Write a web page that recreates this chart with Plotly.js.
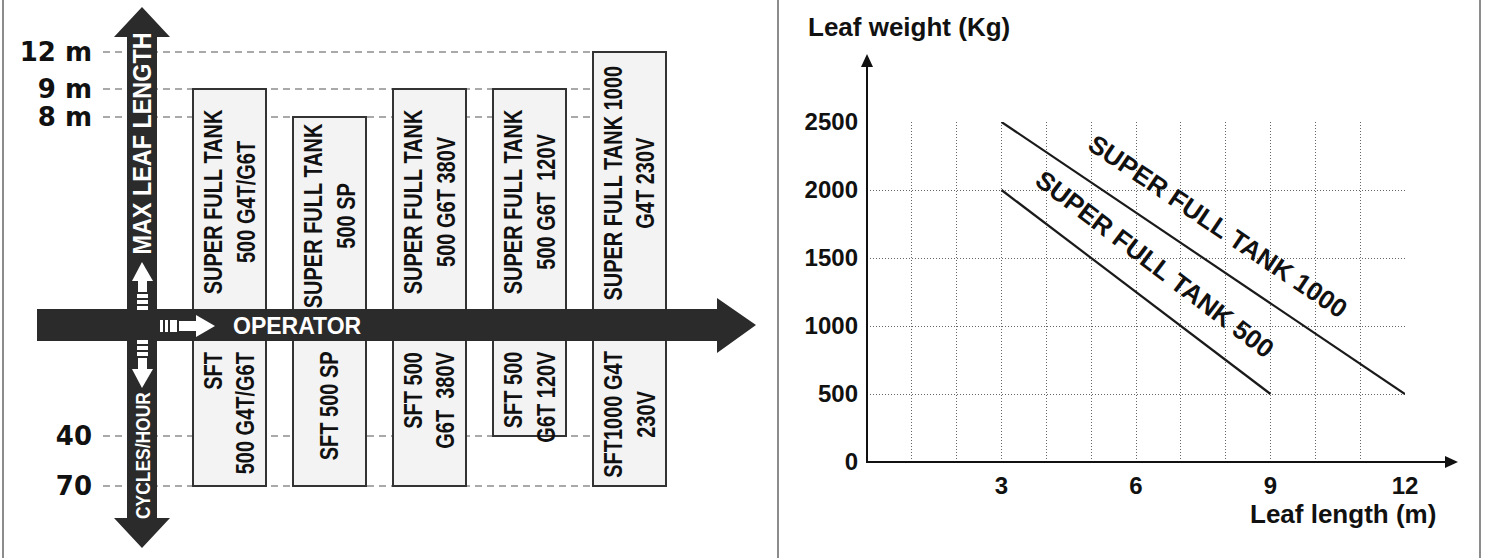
<!DOCTYPE html>
<html><head><meta charset="utf-8">
<script src="https://cdn.plot.ly/plotly-3.0.1.min.js"></script>
<style>html,body{margin:0;padding:0;background:#fff}#chart{width:1485px;height:558px}</style>
</head><body><div id="chart"></div>
<script>
// ---------------- data ----------------
const models = ['SFT 500 G4T/G6T', 'SFT 500 SP', 'SFT 500 G6T 380V', 'SFT 500 G6T 120V', 'SFT 1000 G4T 230V'];
const maxLeafLength = ['9 m', '8 m', '9 m', '9 m', '12 m'];
const cyclesPerHour = ['70', '70', '70', '40', '70'];
const upperLabels = ['SUPER FULL TANK<br>500 G4T/G6T', 'SUPER FULL TANK<br>500 SP', 'SUPER FULL TANK<br>500 G6T 380V', 'SUPER FULL TANK<br>500 G6T  120V', 'SUPER FULL TANK 1000<br>G4T 230V'];
const lowerLabels = ['SFT<br>500 G4T/G6T', 'SFT 500 SP', 'SFT 500<br>G6T  380V', 'SFT 500<br>G6T 120V', 'SFT1000 G4T<br>230V'];
const lengthTicks = ['12 m', '9 m', '8 m'];
const cycleTicks = ['40', '70'];

const sft1000Length = [3, 12];
const sft1000Weight = [2500, 500];
const sft500Length = [3, 9];
const sft500Weight = [2000, 500];
const lineNames = ['SUPER FULL TANK 1000', 'SUPER FULL TANK 500'];
const xTicks = [3, 6, 9, 12];
const yTicks = [0, 500, 1000, 1500, 2000, 2500];

// ---------------- layout helpers (positions / styles) ----------------
const W = 1485, H = 558;
const fx = p => p / W;
const fy = p => 1 - p / H;
// schematic level positions on the left diagram axis (top-down units)
const levelY = {'12 m': 52, '9 m': 89, '8 m': 117, '40': 436, '70': 486};
const arrowTop = 309, arrowBottom = 341, lowerTextTop = 350;
const lowerAlign = ['right', 'center', 'right', 'right', 'center'];
const INK = '#2b2b2b';

function poly(pts) {
  return 'M' + pts.map(p => fx(p[0]).toFixed(5) + ',' + fy(p[1]).toFixed(5)).join('L') + 'Z';
}
function pshape(pts, color) {
  return {type: 'path', xref: 'paper', yref: 'paper', path: poly(pts), fillcolor: color, line: {width: 0}, layer: 'above'};
}
function rect(x0, y0, x1, y1, color) {
  return {type: 'rect', xref: 'paper', yref: 'paper', x0: fx(x0), x1: fx(x1), y0: fy(y1), y1: fy(y0), fillcolor: color, line: {width: 0}, layer: 'above'};
}
function vline(x, y0, y1, color, w) {
  return {type: 'line', xref: 'paper', yref: 'paper', x0: fx(x), x1: fx(x), y0: fy(y0), y1: fy(y1), line: {color: color, width: w}, layer: 'above'};
}

const SANS = 'Liberation Sans, Arial, sans-serif';
const boxFont = {family: SANS, size: 25, weight: 'bold', color: '#111'};
const rightFont = {family: SANS, weight: 'bold', color: '#111'};

// ---------------- traces ----------------
const bars = {
  type: 'bar', x: models,
  base: maxLeafLength.map(l => levelY[l]),
  y: models.map((m, i) => levelY[cyclesPerHour[i]] - levelY[maxLeafLength[i]]),
  width: 0.73,
  marker: {color: '#f3f3f3', line: {color: '#333', width: 2}},
  xaxis: 'x', yaxis: 'y', hoverinfo: 'skip'
};
const line1000 = {type: 'scatter', mode: 'lines', x: sft1000Length, y: sft1000Weight, name: lineNames[0],
  line: {color: '#1a1a1a', width: 2.2}, xaxis: 'x2', yaxis: 'y2', hoverinfo: 'skip'};
const line500 = {type: 'scatter', mode: 'lines', x: sft500Length, y: sft500Weight, name: lineNames[1],
  line: {color: '#1a1a1a', width: 2.2}, xaxis: 'x2', yaxis: 'y2', hoverinfo: 'skip'};

// ---------------- axes ----------------
const x2Dom = [867 / W, 1405 / W];
const y2Dom = [96 / H, 436 / H];
const GRID = '#666';
const gridStyle = {showgrid: true, griddash: '1px,2px', gridcolor: GRID, gridwidth: 1};

// ---------------- shapes ----------------
const shapes = [];
lengthTicks.concat(cycleTicks).forEach(t => {
  shapes.push({type: 'line', xref: 'x', yref: 'y', x0: -1.265, x1: models.length - 1 - 0.365, y0: levelY[t], y1: levelY[t],
    line: {color: '#555', width: 1.2, dash: '7px,5px'}, layer: 'below'});
});
shapes.push(pshape([[127,37],[114,37],[142,7],[170,37],[157,37],[157,518],[170,518],[142,548],[114,518],[127,518]], INK));
shapes.push(pshape([[37,arrowTop],[717,arrowTop],[717,298],[756,325],[717,353],[717,arrowBottom],[37,arrowBottom]], INK));
shapes.push(pshape([[132,281],[142,262],[153,281]], '#fff'));
shapes.push(rect(138,280,147,292,'#fff'));
shapes.push(rect(137,294,148,298,'#fff'));
shapes.push(rect(137,300,148,304,'#fff'));
shapes.push(rect(137,306,148,310,'#fff'));
shapes.push(pshape([[132,369],[142,388],[153,369]], '#fff'));
shapes.push(rect(138,358,147,370,'#fff'));
shapes.push(rect(137,352,148,356,'#fff'));
shapes.push(rect(137,346,148,350,'#fff'));
shapes.push(rect(137,340,148,344,'#fff'));
shapes.push(rect(160,320,163,332,'#fff'));
shapes.push(rect(165,320,168,332,'#fff'));
shapes.push(rect(170,320,177,332,'#fff'));
shapes.push(rect(179,321,197,331,'#fff'));
shapes.push(pshape([[196,315],[215,326],[196,337]], '#fff'));
shapes.push({type: 'line', xref: 'paper', yref: 'paper', x0: fx(867), x1: fx(867), y0: fy(463), y1: fy(66), line: {color: '#111', width: 2}, layer: 'above'});
shapes.push(pshape([[861,67],[867,54],[873,67]], '#111'));
shapes.push({type: 'line', xref: 'paper', yref: 'paper', x0: fx(866), x1: fx(1446), y0: fy(462), y1: fy(462), line: {color: '#111', width: 2}, layer: 'above'});
shapes.push(pshape([[1445,456],[1458,462],[1445,468]], '#111'));
shapes.push(vline(3, 0, 558, '#666', 1.5));
shapes.push(vline(778, 0, 558, '#666', 1.5));
shapes.push(vline(1480, 0, 558, '#666', 1.5));

// ---------------- annotations ----------------
const annotations = [];
const condense = []; // horizontal squeeze of glyphs along the text direction
function addAnn(a, k, origin) {
  if (k) condense.push({i: annotations.length, k: k, origin: origin || 'center'});
  annotations.push(a);
}
models.forEach((m, i) => {
  addAnn({xref: 'x', yref: 'y', x: m, y: (levelY[maxLeafLength[i]] + arrowTop) / 2 + 3, text: upperLabels[i],
    textangle: -90, showarrow: false, font: boxFont, xanchor: 'center', yanchor: 'middle', align: 'center'}, 0.8, 'center');
  addAnn({xref: 'x', yref: 'y', x: m, y: lowerTextTop, text: lowerLabels[i],
    textangle: -90, showarrow: false, font: boxFont, xanchor: 'center', yanchor: 'top', align: lowerAlign[i]}, 0.8, 'right center');
});
addAnn({xref: 'paper', yref: 'paper', x: fx(142), y: fy(144), text: 'MAX LEAF LENGTH', textangle: -90, showarrow: false,
  font: {family: SANS, size: 26, weight: 'bold', color: '#fff'}, xanchor: 'center', yanchor: 'middle'}, 0.9, 'center');
addAnn({xref: 'paper', yref: 'paper', x: fx(142), y: fy(456), text: 'CYCLES/HOUR', textangle: -90, showarrow: false,
  font: {family: SANS, size: 21, weight: 'bold', color: '#fff'}, xanchor: 'center', yanchor: 'middle'}, 0.83, 'center');
addAnn({xref: 'paper', yref: 'paper', x: fx(297), y: fy(326), text: 'OPERATOR', showarrow: false,
  font: {family: SANS, size: 23, weight: 'bold', color: '#fff'}, xanchor: 'center', yanchor: 'middle'});
addAnn({xref: 'paper', yref: 'paper', x: fx(806), y: fy(27), text: 'Leaf weight (Kg)', showarrow: false,
  font: Object.assign({size: 26}, rightFont), xanchor: 'left', yanchor: 'middle'});
addAnn({xref: 'paper', yref: 'paper', x: fx(1438), y: fy(514), text: 'Leaf length (m)', showarrow: false,
  font: Object.assign({size: 26}, rightFont), xanchor: 'right', yanchor: 'middle'});

// diagonal labels along the lines, angle taken from the axis scales
const ppx = (x2Dom[1] - x2Dom[0]) * W / 12;
const ppy = (y2Dom[1] - y2Dom[0]) * H / 2500;
[[sft1000Length, sft1000Weight, lineNames[0], 34, -6], [sft500Length, sft500Weight, lineNames[1], 33, -2]].forEach(([xs, ys, name, d, along]) => {
  const dxp = (xs[1] - xs[0]) * ppx, dyp = (ys[0] - ys[1]) * ppy;
  const a = Math.atan2(dyp, dxp);
  addAnn({xref: 'x2', yref: 'y2', x: (xs[0] + xs[1]) / 2, y: (ys[0] + ys[1]) / 2, text: name,
    textangle: a * 180 / Math.PI, showarrow: false, font: Object.assign({size: 26}, rightFont),
    xanchor: 'center', yanchor: 'middle',
    xshift: d * Math.sin(a) + along * Math.cos(a), yshift: d * Math.cos(a) - along * Math.sin(a)});
});

const layout = {
  width: W, height: H, margin: {l: 0, r: 0, t: 0, b: 0},
  paper_bgcolor: '#fff', plot_bgcolor: 'rgba(0,0,0,0)', showlegend: false, hovermode: false,
  barmode: 'overlay',
  xaxis: {type: 'category', categoryorder: 'array', categoryarray: models, domain: [103 / W, 775 / W], range: [-1.265, 5.455],
    visible: false, fixedrange: true},
  yaxis: {domain: [0, 1], range: [H, 0], anchor: 'x', tickmode: 'array',
    tickvals: lengthTicks.concat(cycleTicks).map(t => levelY[t]), ticktext: lengthTicks.concat(cycleTicks),
    showgrid: false, zeroline: false, showline: false, ticks: '', ticklabelstandoff: 10,
    tickfont: {family: 'DejaVu Sans, sans-serif', size: 26, weight: 'bold', color: '#111'}, fixedrange: true},
  xaxis2: Object.assign({domain: x2Dom, range: [0, 12], anchor: 'y2', tickmode: 'array', tickvals: xTicks, ticktext: xTicks.map(String),
    zeroline: false, showline: false, ticks: '', ticklabelstandoff: 7,
    minor: {dtick: 1, tick0: 0, showgrid: true, griddash: '1px,2px', gridcolor: GRID, gridwidth: 1},
    tickfont: Object.assign({size: 24}, rightFont), fixedrange: true}, gridStyle),
  yaxis2: Object.assign({domain: y2Dom, range: [0, 2500], anchor: 'x2', tickmode: 'array', tickvals: yTicks, ticktext: yTicks.map(String),
    zeroline: false, showline: false, ticks: '', ticklabelstandoff: 8,
    tickfont: Object.assign({size: 24}, rightFont), fixedrange: true}, gridStyle),
  shapes: shapes,
  annotations: annotations
};

Plotly.newPlot('chart', [bars, line1000, line500], layout, {displayModeBar: false, staticPlot: true}).then(gd => {
  condense.forEach(c => {
    const t = gd.querySelector('.annotation[data-index="' + c.i + '"] text.annotation-text');
    if (t) {
      t.style.transformBox = 'fill-box';
      t.style.transformOrigin = c.origin;
      t.style.transform = 'scaleX(' + c.k + ')';
    }
  });
});
</script>
</body></html>
